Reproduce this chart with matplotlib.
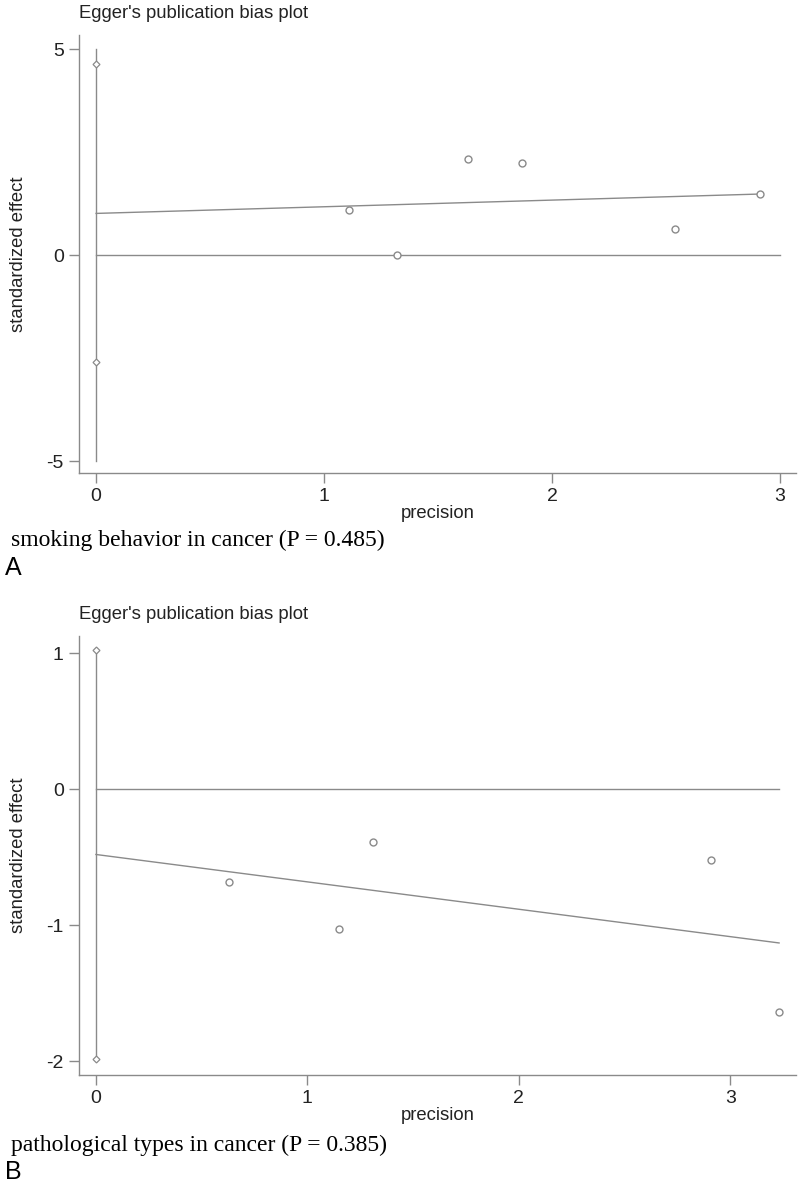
import matplotlib
matplotlib.use('Agg')
import matplotlib.pyplot as plt

# Panel A: smoking behavior
a_prec = [1.11, 1.32, 1.63, 1.87, 2.54, 2.91]
a_eff = [1.09, 0.00, 2.33, 2.23, 0.63, 1.48]
a_ci_pts = [4.63, -2.60]          # markers on the intercept line
a_ci_line = [5.0, -5.0]           # vertical line at precision 0
a_fit_x = [0.0, 2.91]
a_fit_y = [1.01, 1.48]
a_zero_x = [0.0, 3.0]
a_xticks = [0, 1, 2, 3]
a_yticks = [-5, 0, 5]
a_caption = "smoking behavior in cancer (P = 0.485)"

# Panel B: pathological types
b_prec = [0.63, 1.15, 1.31, 2.91, 3.23]
b_eff = [-0.68, -1.03, -0.39, -0.52, -1.64]
b_ci_pts = [1.02, -1.98]
b_ci_line = [1.02, -1.98]
b_fit_x = [0.0, 3.23]
b_fit_y = [-0.48, -1.13]
b_zero_x = [0.0, 3.23]
b_xticks = [0, 1, 2, 3]
b_yticks = [-2, -1, 0, 1]
b_caption = "pathological types in cancer (P = 0.385)"

gray = '#8a8a8a'
plt.rcParams['font.family'] = ['Liberation Sans', 'DejaVu Sans']
plt.rcParams['axes.unicode_minus'] = False

fig = plt.figure(figsize=(8, 11.85), dpi=100)


def egger_panel(rect, prec, eff, ci_pts, ci_line, fit_x, fit_y, zero_x,
                xticks, yticks, xlim, ylim, caption, letter, cap_y, let_y):
    ax = fig.add_axes(rect)
    ax.plot([0, 0], ci_line, color=gray, lw=1.0)
    ax.plot(zero_x, [0, 0], color=gray, lw=1.0)
    ax.plot(fit_x, fit_y, color=gray, lw=1.0)
    ax.plot([0] * len(ci_pts), ci_pts, linestyle='none', marker='D', ms=3.5,
            mfc='white', mec=gray, mew=0.9)
    ax.plot(prec, eff, linestyle='none', marker='o', ms=5, mfc='white',
            mec=gray, mew=1.0)
    ax.set_xlim(xlim)
    ax.set_ylim(ylim)
    ax.set_xticks(xticks)
    ax.set_yticks(yticks)
    for s in ['top', 'right']:
        ax.spines[s].set_visible(False)
    for s in ['left', 'bottom']:
        ax.spines[s].set_color(gray)
        ax.spines[s].set_linewidth(1.0)
    ax.tick_params(direction='out', length=7, width=1.0, color=gray,
                   labelsize=14, labelcolor='#222222', pad=4)
    ax.set_xlabel('precision', fontsize=13.3, color='#222222', labelpad=0)
    ax.set_ylabel('standardized effect', fontsize=13.3, color='#222222')
    ax.yaxis.set_label_coords(-0.072, 0.5)
    ax.set_title("Egger's publication bias plot", fontsize=13.3,
                 color='#222222', loc='left', pad=12)
    fig.text(11 / 800, 1 - cap_y / 1185, caption, fontsize=17,
             family='Liberation Serif', va='center', ha='left')
    fig.text(5 / 800, 1 - let_y / 1185, letter, fontsize=18,
             va='center', ha='left')
    return ax


egger_panel([79 / 800, 1 - 473 / 1185, 717 / 800, 438 / 1185],
            a_prec, a_eff, a_ci_pts, a_ci_line, a_fit_x, a_fit_y, a_zero_x,
            a_xticks, a_yticks, (-0.075, 3.07), (-5.29, 5.34),
            a_caption, 'A', 540, 568)

egger_panel([79 / 800, 1 - 1075 / 1185, 717 / 800, 439 / 1185],
            b_prec, b_eff, b_ci_pts, b_ci_line, b_fit_x, b_fit_y, b_zero_x,
            b_xticks, b_yticks, (-0.08, 3.31), (-2.10, 1.125),
            b_caption, 'B', 1145, 1172)

fig.savefig('out.png', dpi=100)
